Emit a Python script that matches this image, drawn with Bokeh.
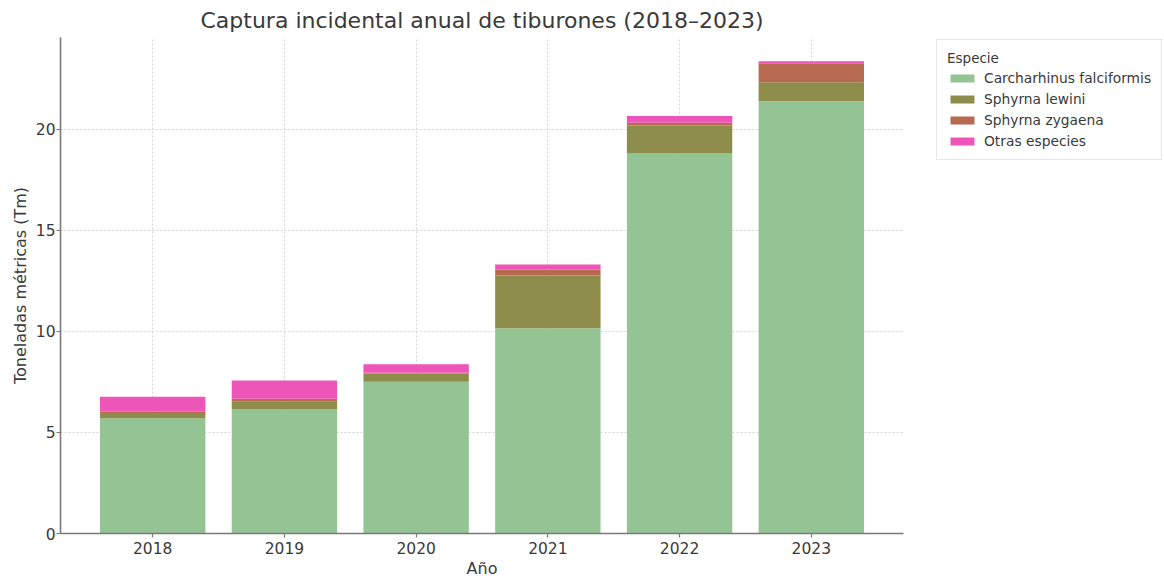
from bokeh.plotting import figure
from bokeh.models import Range1d, FixedTicker, Legend, LegendItem, ColumnDataSource
from bokeh.embed import file_html
from bokeh.resources import INLINE

years = ["2018", "2019", "2020", "2021", "2022", "2023"]
species = ["Carcharhinus falciformis", "Sphyrna lewini", "Sphyrna zygaena", "Otras especies"]
c_falciformis = [5.70, 6.14, 7.51, 10.16, 18.81, 21.39]
s_lewini = [0.27, 0.41, 0.41, 2.61, 1.39, 0.95]
s_zygaena = [0.05, 0.12, 0.04, 0.30, 0.13, 0.93]
otras = [0.75, 0.90, 0.42, 0.25, 0.33, 0.11]
colors = ["#94c394", "#8e8c4a", "#b86a50", "#ee55b8"]

FONT = "DejaVu Sans"
TXT = "#3a3a3a"
xs = list(range(len(years)))
src = ColumnDataSource(dict(x=xs, s0=c_falciformis, s1=s_lewini, s2=s_zygaena, s3=otras))

p = figure(frame_width=843, frame_height=496, output_backend="svg", toolbar_location=None,
           x_range=Range1d(-0.7, len(years) - 0.3), y_range=Range1d(0, 24.55),
           min_border_left=60, min_border_top=35, min_border_bottom=40, min_border_right=0)
p.title.text = "Captura incidental anual de tiburones (2018\u20132023)"
p.title.align = "center"
p.title.text_font = FONT
p.title.text_font_size = "22px"
p.title.text_font_style = "normal"
p.title.text_color = TXT
p.title.offset = 0

renderers = p.vbar_stack(["s0", "s1", "s2", "s3"], x="x", width=0.8, source=src,
                         fill_color=colors, line_color=None)

p.xaxis.ticker = FixedTicker(ticks=xs)
p.xaxis.major_label_overrides = {i: y for i, y in enumerate(years)}
p.yaxis.ticker = FixedTicker(ticks=[0, 5, 10, 15, 20])
for ax in (p.xaxis, p.yaxis):
    ax.minor_tick_line_color = None
    ax.major_tick_out = 4
    ax.major_tick_in = 0
    ax.major_label_text_font = FONT
    ax.major_label_text_font_size = "15.5px"
    ax.major_label_text_color = TXT
    ax.axis_label_text_font = FONT
    ax.axis_label_text_font_size = "16px"
    ax.axis_label_text_font_style = "normal"
    ax.axis_label_text_color = TXT
    ax.axis_line_color = "#7a7a7a"
    ax.axis_line_width = 1.6
    ax.major_tick_line_color = "#7a7a7a"
    ax.major_tick_line_width = 1.2
p.xaxis.major_label_standoff = 4
p.yaxis.major_label_standoff = 1
p.xaxis.axis_label = "A\u00f1o"
p.yaxis.axis_label = "Toneladas m\u00e9tricas (Tm)"
p.xaxis.axis_label_standoff = 2
p.yaxis.axis_label_standoff = 3

p.xgrid.grid_line_dash = "2 2"
p.ygrid.grid_line_dash = "2 2"
p.xgrid.grid_line_color = "#d4d4d4"
p.ygrid.grid_line_color = "#d4d4d4"
p.outline_line_color = None

legend = Legend(items=[LegendItem(label=s, renderers=[r]) for s, r in zip(species, renderers)],
                title="Especie", location=(33, 496 - 2 - 114 - 7))
legend.title_text_font = FONT
legend.title_text_font_size = "13.5px"
legend.title_text_font_style = "normal"
legend.title_text_color = TXT
legend.title_standoff = 3
legend.label_text_font = FONT
legend.label_text_font_size = "13.8px"
legend.label_text_color = TXT
legend.glyph_width = 30
legend.glyph_height = 10
legend.label_height = 17
legend.label_standoff = 7
legend.spacing = 4
legend.padding = 10
legend.margin = 0
legend.border_line_color = "#d0d0d0"
legend.background_fill_alpha = 1
p.add_layout(legend, "right")

open("out.html", "w").write(file_html(p, INLINE))
